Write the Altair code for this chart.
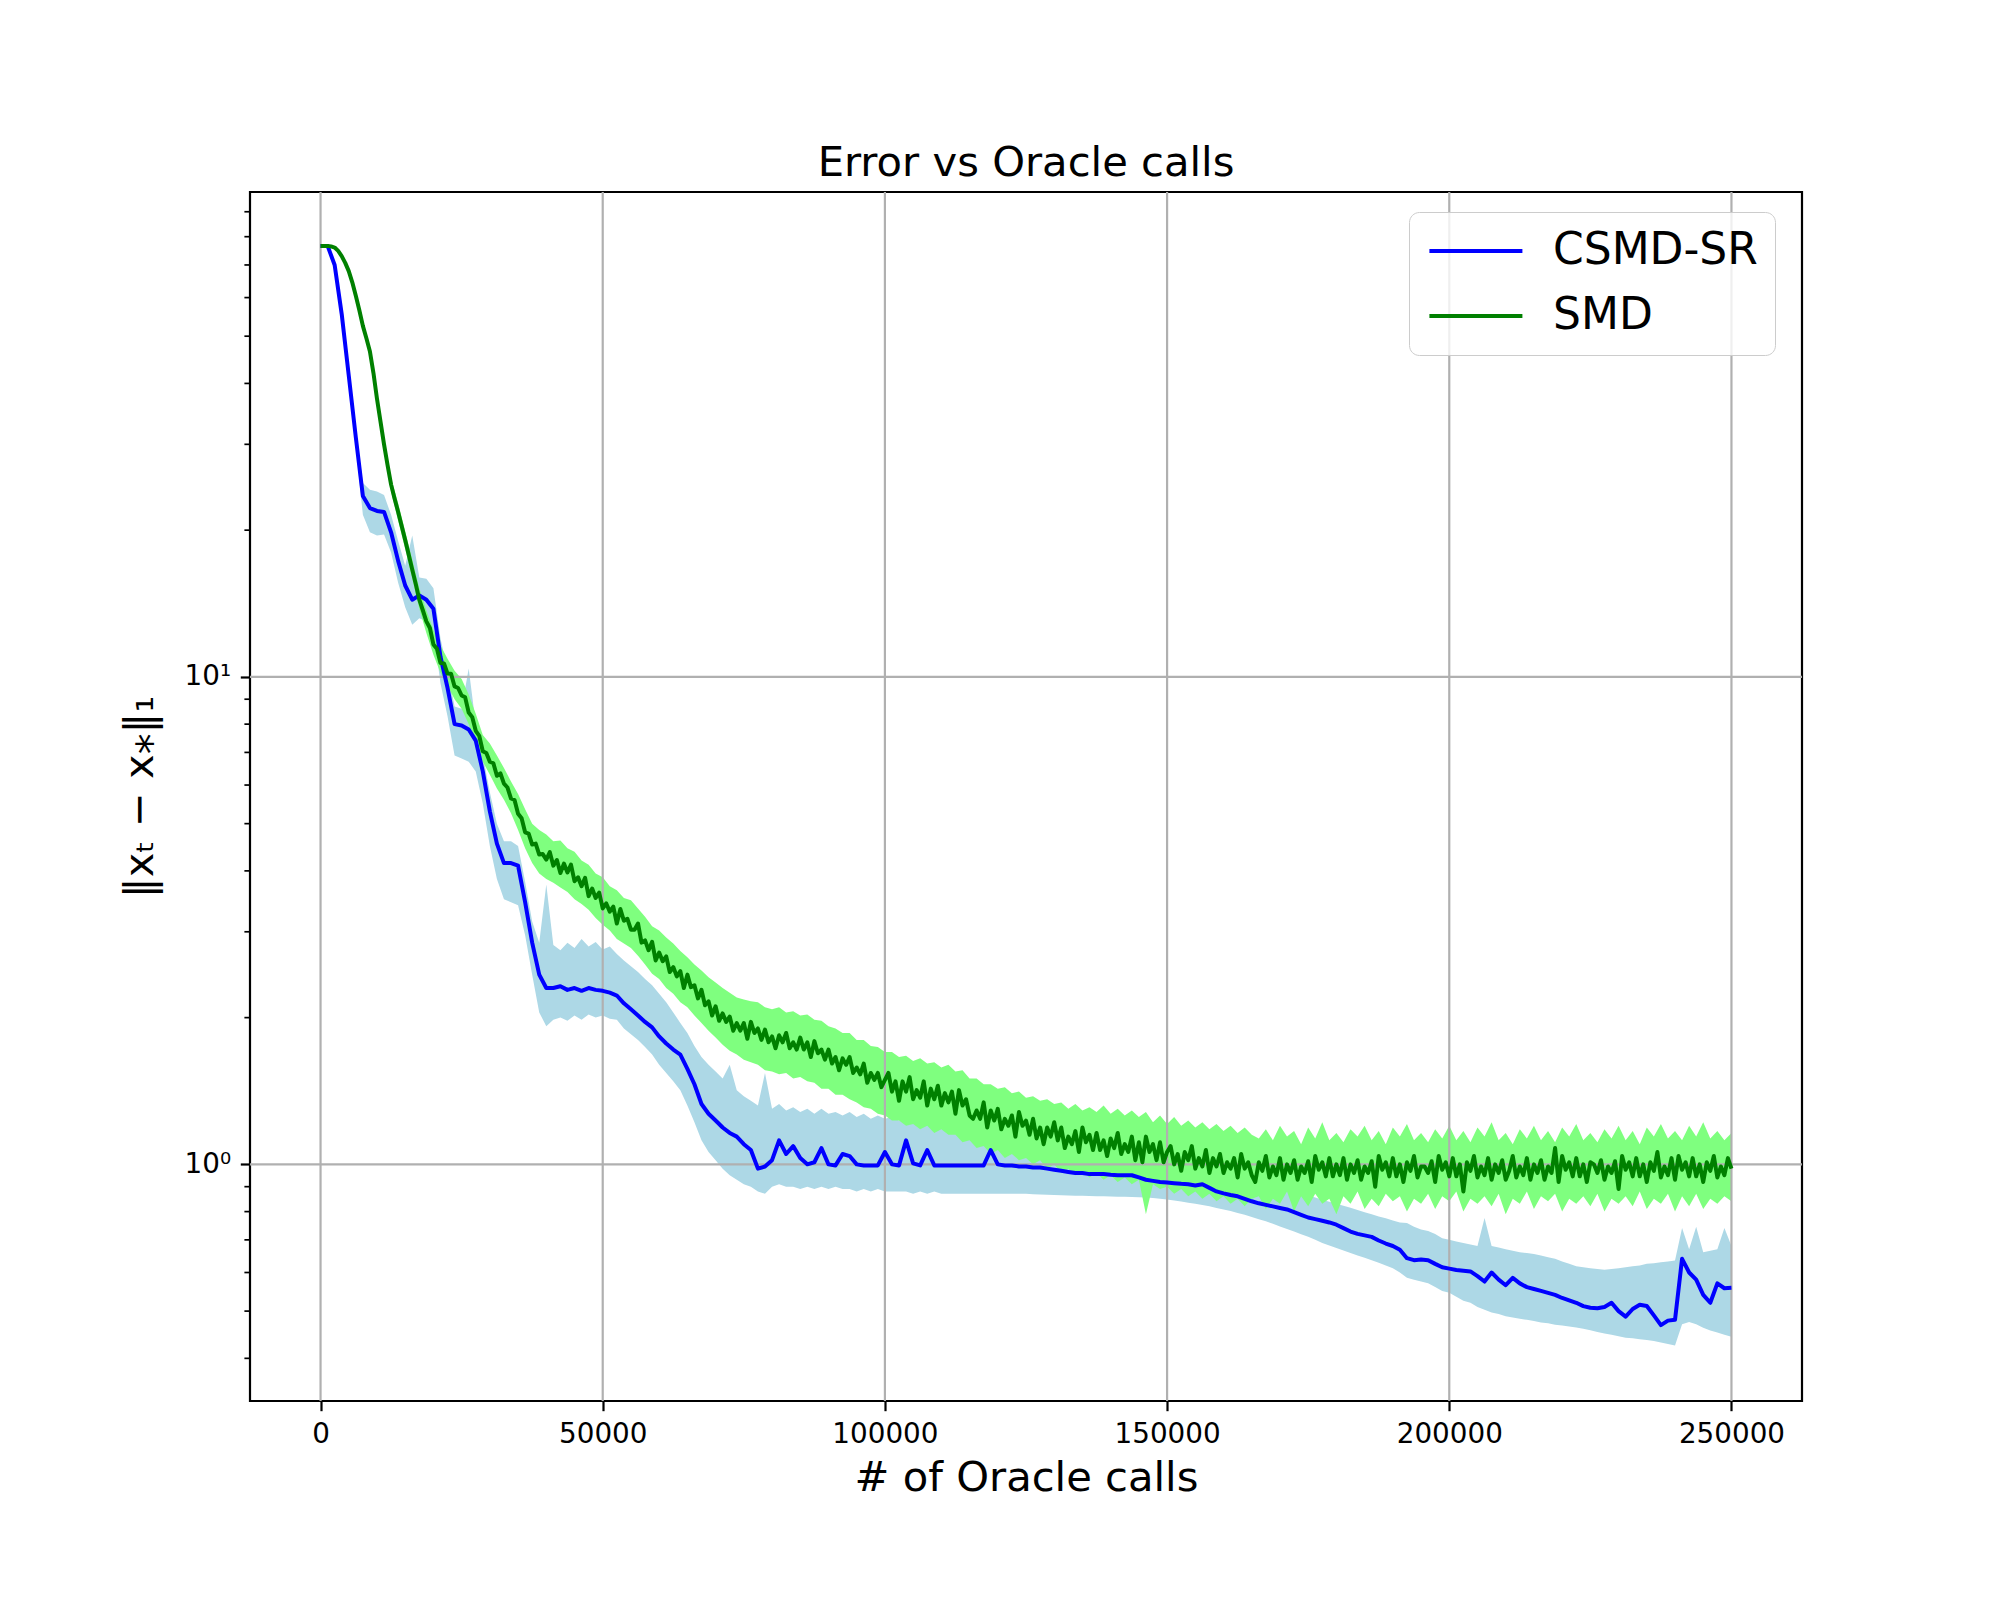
import altair as alt
import pandas as pd

# ---------------- data ----------------
X_STEP = 1250          # sampling step of the CSMD-SR curve and of both bands
X_STEP_FINE = 625      # sampling step of the (very noisy) SMD mean curve

csmd_mean = [
    76.6, 76.6, 70.0, 55.5, 41.5, 31.0, 23.5, 22.2, 21.9, 21.8,
    19.8, 17.3, 15.4, 14.4, 14.7, 14.4, 13.8, 11.0, 9.5, 8.0,
    7.95, 7.8, 7.4, 6.4, 5.3, 4.55, 4.15, 4.15, 4.1, 3.45,
    2.85, 2.45, 2.3, 2.3, 2.32, 2.28, 2.3, 2.27, 2.3, 2.28,
    2.27, 2.25, 2.22, 2.14, 2.08, 2.02, 1.96, 1.91, 1.83, 1.77,
    1.72, 1.68, 1.57, 1.46, 1.33, 1.27, 1.23, 1.19, 1.16, 1.14,
    1.10, 1.07, 0.98, 0.99, 1.02, 1.12, 1.05, 1.09, 1.03, 1.0,
    1.01, 1.08, 1.0, 0.995, 1.05, 1.04, 1.0, 0.995, 0.995, 0.995,
    1.06, 1.0, 0.995, 1.12, 1.005, 0.995, 1.07, 0.995, 0.995, 0.995,
    0.995, 0.995, 0.995, 0.995, 0.995, 1.07, 1.0, 0.995, 0.995, 0.99,
    0.99, 0.985, 0.985, 0.98, 0.975, 0.97, 0.965, 0.96, 0.96, 0.955,
    0.955, 0.955, 0.952, 0.95, 0.95, 0.95, 0.94, 0.93, 0.925, 0.92,
    0.918, 0.915, 0.912, 0.91, 0.905, 0.91, 0.895, 0.88, 0.872, 0.865,
    0.86, 0.85, 0.84, 0.832, 0.826, 0.82, 0.814, 0.808, 0.798, 0.788,
    0.778, 0.772, 0.766, 0.76, 0.752, 0.74, 0.728, 0.72, 0.715, 0.71,
    0.698, 0.688, 0.68, 0.668, 0.642, 0.636, 0.638, 0.636, 0.625, 0.615,
    0.611, 0.607, 0.605, 0.603, 0.59, 0.575, 0.6, 0.58, 0.565, 0.585,
    0.57, 0.56, 0.555, 0.55, 0.545, 0.54, 0.532, 0.526, 0.52, 0.512,
    0.508, 0.507, 0.51, 0.52, 0.5, 0.487, 0.505, 0.515, 0.512, 0.49,
    0.468, 0.478, 0.48, 0.64, 0.6, 0.58, 0.54, 0.52, 0.57, 0.557,
    0.558,
]

csmd_lo = [
    76.6, 76.6, 70.0,
    54, 40, 29.8, 21.5, 19.8, 19.5, 19.6, 18.0, 15.6, 13.9, 12.8, 13.2, 13.0, 12.5,
    9.7, 8.3, 6.9, 6.8, 6.7, 6.4, 5.5, 4.5, 3.85, 3.5, 3.45, 3.4, 2.95, 2.45, 2.05,
    1.92, 1.98, 2.0, 1.97, 2.02, 1.98, 2.03, 2.0, 2.02, 1.99, 1.98, 1.9, 1.85, 1.8,
    1.74, 1.68, 1.6, 1.54, 1.48, 1.42, 1.32, 1.22, 1.12, 1.06, 1.02, 0.98, 0.95, 0.93,
    0.91, 0.9, 0.88, 0.87,
    0.9, 0.91, 0.9, 0.9, 0.89, 0.9, 0.89, 0.9, 0.89, 0.9, 0.89, 0.89, 0.88, 0.89,
    0.88, 0.89, 0.88, 0.88, 0.88, 0.88, 0.87, 0.88, 0.87, 0.88,
    0.87, 0.87, 0.87, 0.87, 0.87, 0.87, 0.87, 0.87, 0.87, 0.87, 0.87, 0.87, 0.87,
    0.868, 0.867, 0.866, 0.865, 0.864, 0.863, 0.862, 0.862, 0.861, 0.86, 0.86, 0.859,
    0.858, 0.858, 0.857, 0.856, 0.855, 0.853, 0.85, 0.847, 0.843, 0.839, 0.834, 0.83,
    0.825, 0.82, 0.814, 0.808, 0.802, 0.795, 0.788, 0.78,
    0.772, 0.764, 0.755, 0.746, 0.737, 0.728, 0.719, 0.71, 0.7, 0.69,
    0.682, 0.674, 0.666, 0.658, 0.65, 0.643, 0.636, 0.628, 0.62, 0.612,
    0.6, 0.585, 0.58, 0.575, 0.57, 0.56, 0.55, 0.545, 0.535, 0.525,
    0.52, 0.51, 0.503, 0.497, 0.493, 0.488, 0.485, 0.482, 0.48, 0.477,
    0.474, 0.472, 0.469, 0.467, 0.465, 0.463, 0.46, 0.457, 0.453, 0.45,
    0.447, 0.444, 0.441, 0.44, 0.438, 0.436, 0.434, 0.431, 0.428, 0.425,
    0.47, 0.475, 0.47, 0.462, 0.456, 0.452, 0.447, 0.443,
]

csmd_hi = [
    76.6, 76.6, 70.0,
    57, 43, 32.3, 25.0, 24.2, 24.0, 23.6, 21.5, 19.0, 16.9, 19.5, 16.0, 15.9, 15.2,
    12.0, 10.3, 8.7, 8.6, 10.4, 8.0, 6.9, 5.8, 5.0, 4.6, 4.6, 4.5, 3.8, 3.15, 2.85,
    3.75, 2.82, 2.75, 2.85, 2.78, 2.9, 2.8, 2.86, 2.76, 2.8, 2.7, 2.62, 2.55, 2.48,
    2.4, 2.33, 2.24, 2.15, 2.05, 1.95, 1.86, 1.75, 1.66, 1.6, 1.55, 1.5, 1.6, 1.42,
    1.38, 1.35, 1.32, 1.54,
    1.3, 1.33, 1.29, 1.31, 1.28, 1.3, 1.27, 1.3, 1.27, 1.28,
    1.26, 1.28, 1.25, 1.27, 1.24, 1.26, 1.24, 1.25, 1.23, 1.24,
    1.22, 1.23, 1.21, 1.22, 1.2, 1.21, 1.19, 1.2, 1.18, 1.19,
    1.17, 1.18, 1.16, 1.17, 1.15, 1.15, 1.13,
    1.13, 1.11, 1.12, 1.1, 1.1, 1.08, 1.08, 1.06, 1.06, 1.05,
    1.04, 1.03, 1.03, 1.02, 1.01, 1.0, 0.99, 0.99, 0.98, 0.97,
    0.97, 0.96, 0.955, 0.95, 0.945, 0.94, 0.935, 0.93, 0.925, 0.92,
    0.915, 0.91, 0.905, 0.9, 0.895, 0.89, 0.885, 0.88, 0.872, 0.865,
    0.855, 0.846, 0.838, 0.83, 0.822, 0.815, 0.806, 0.798, 0.79, 0.782,
    0.775, 0.767, 0.76, 0.758, 0.745, 0.735, 0.73, 0.72, 0.705, 0.7,
    0.695, 0.69, 0.685, 0.68, 0.776, 0.68, 0.675, 0.67, 0.665, 0.66,
    0.658, 0.655, 0.65, 0.645, 0.64, 0.632, 0.625, 0.618, 0.615, 0.612,
    0.61, 0.608, 0.61, 0.612, 0.615, 0.618, 0.62, 0.625, 0.627, 0.63,
    0.632, 0.635, 0.74, 0.67, 0.745, 0.66, 0.665, 0.67, 0.74, 0.68,
]

# SMD mean, every 625 oracle calls (0 .. 250000)
smd_mean = [
    # 0 - 18750
    76.6, 76.6, 76.6, 76.4, 76.0, 74.8, 73.0, 70.7, 68.0, 64.5,
    60.5, 56.5, 52.5, 49.5, 46.5, 42.0, 37.2, 33.4, 30.0, 27.2,
    24.8, 23.2, 21.8, 20.4, 19.1, 17.8, 16.6, 15.5, 14.4, 13.7, 13.0,
    # 19375 - 40000
    12.6, 11.66, 11.42, 10.68, 10.66, 10.16, 10.15, 9.56, 9.49, 9.16,
    9.08, 8.45, 8.27, 7.75, 7.57, 7.04, 6.98, 6.7, 6.65, 6.27,
    6.34, 6.04, 5.93, 5.63, 5.59, 5.24, 5.13, 4.8, 4.77, 4.53,
    4.55, 4.32, 4.33, 4.22,
    # 40625 - 100000
    4.37, 4.1, 4.21, 3.96, 4.14, 3.97, 4.12, 3.81, 3.88, 3.72,
    3.87, 3.55, 3.68, 3.52, 3.61, 3.35, 3.43, 3.3, 3.38, 3.12,
    3.34, 3.16, 3.19, 3.03, 3.03, 3.12, 2.85, 2.88, 2.75, 2.86,
    2.62, 2.72, 2.61, 2.67, 2.48, 2.54, 2.43, 2.49, 2.3, 2.45,
    2.31, 2.33, 2.19, 2.28, 2.12, 2.16, 2.02, 2.11, 1.97, 2.04,
    1.96, 2.01, 1.88, 1.95, 1.88, 1.95, 1.81, 1.96, 1.86, 1.9,
    1.8, 1.89, 1.78, 1.83, 1.73, 1.84, 1.78, 1.86, 1.73, 1.78,
    1.72, 1.82, 1.72, 1.78, 1.66, 1.79, 1.69, 1.72, 1.64, 1.72,
    1.61, 1.66, 1.56, 1.65, 1.6, 1.66, 1.54, 1.58, 1.53, 1.61,
    1.47, 1.54, 1.49, 1.54, 1.44, 1.49,
    # 100625 - 150000
    1.54, 1.41, 1.48, 1.35, 1.48, 1.41, 1.51, 1.36, 1.42, 1.37,
    1.48, 1.32, 1.43, 1.36, 1.45, 1.32, 1.4, 1.34, 1.41, 1.27,
    1.42, 1.32, 1.36, 1.26, 1.24, 1.29, 1.24, 1.34, 1.19, 1.29,
    1.23, 1.3, 1.18, 1.24, 1.2, 1.26, 1.14, 1.28, 1.2, 1.23,
    1.15, 1.24, 1.13, 1.19, 1.1, 1.19, 1.14, 1.22, 1.12, 1.19,
    1.08, 1.14, 1.1, 1.17, 1.06, 1.19, 1.11, 1.15, 1.07, 1.16,
    1.07, 1.12, 1.04, 1.13, 1.08, 1.16, 1.05, 1.1, 1.06, 1.14,
    1.02, 1.11, 1.01, 1.14, 1.06, 1.1, 1.02, 1.11, 1.01, 1.06,
    # 150625 - 165000
    1.09, 1.0, 1.05, 0.97, 1.06, 1.02, 1.09, 0.98, 1.03, 0.99,
    1.07, 0.96, 1.03, 0.99, 1.05, 0.96, 1.01, 0.98, 1.03, 0.94,
    1.05, 0.98, 1.01, 0.95,
    # 165625 - 180000
    0.92, 1.01, 0.97, 1.04, 0.94, 0.99, 0.95, 1.03, 0.93, 1.0,
    0.96, 1.02, 0.93, 0.99, 0.96, 1.015, 0.92, 1.04, 0.975, 1.01,
    0.945, 1.03, 0.945, 1.0,
    # 180625 - 195000
    0.95, 1.03, 0.93, 1.0, 0.96, 1.02, 0.93, 0.99, 0.96, 1.015,
    0.9, 1.04, 0.975, 1.01, 0.945, 1.03, 0.945, 1.0, 0.92, 1.01,
    0.97, 1.04, 0.94, 0.99,
    # 195625 - 210000
    0.99, 0.96, 1.015, 0.92, 1.04, 0.975, 1.01, 0.945, 1.03, 0.945,
    1.0, 0.88, 1.01, 0.97, 1.04, 0.94, 0.99, 0.95, 1.03, 0.93,
    1.0, 0.96, 1.02, 0.93,
    # 210625 - 225000
    0.97, 1.04, 0.94, 0.99, 0.95, 1.03, 0.93, 1.0, 0.96, 1.02,
    0.93, 0.99, 0.96, 1.08, 0.92, 1.04, 0.975, 1.01, 0.945, 1.03,
    0.945, 1.0, 0.92, 1.01,
    # 225625 - 240000
    1.0, 0.96, 1.02, 0.93, 0.99, 0.96, 1.015, 0.89, 1.04, 0.975,
    1.01, 0.945, 1.03, 0.945, 1.0, 0.92, 1.01, 0.97, 1.06, 0.94,
    0.99, 0.95, 1.03, 0.93,
    # 240625 - 250000
    1.04, 0.975, 1.01, 0.945, 1.03, 0.945, 1.0, 0.92, 1.01, 0.97,
    1.04, 0.94, 0.99, 0.95, 1.03, 0.98,
]

smd_lo = [
    76.6, 76.6, 76.0, 73.0, 68.0, 60.5, 52.5, 46.5, 37.2,
    29.2, 24.0, 20.9, 18.3, 15.9, 13.8, 12.3, 11.1, 10.2, 9.6, 9.0, 8.6, 8.0, 7.3,
    6.7, 6.3, 5.9, 5.6, 5.25, 4.85, 4.45, 4.15, 3.95,
    3.85, 3.78, 3.7, 3.62, 3.5, 3.42, 3.33, 3.2, 3.1, 3.02, 2.9, 2.84, 2.78, 2.68,
    2.57, 2.46, 2.4, 2.3, 2.24, 2.15, 2.1, 2.02, 1.95, 1.88, 1.82, 1.76, 1.71, 1.68, 1.64,
    1.62, 1.6, 1.56, 1.55, 1.53, 1.54, 1.5, 1.51, 1.48, 1.47, 1.43, 1.43, 1.39, 1.39,
    1.36, 1.34, 1.31, 1.3, 1.27, 1.26, 1.23, 1.23, 1.2, 1.21, 1.18, 1.2, 1.16, 1.18,
    1.15, 1.15, 1.11, 1.12, 1.08, 1.09, 1.05, 1.07, 1.03, 1.05, 1.02, 1.03,
    1.0, 1.02, 0.98, 1.0, 0.96, 0.98, 0.95, 0.97, 0.94, 0.96, 0.93, 0.95, 0.92, 0.94,
    0.91, 0.93, 0.79, 0.91, 0.89, 0.9, 0.87, 0.89, 0.86, 0.88, 0.85, 0.87, 0.84, 0.86,
    0.83, 0.85, 0.82, 0.85,
    0.86, 0.81, 0.85, 0.83, 0.88, 0.8, 0.86, 0.82, 0.87, 0.83,
    0.85, 0.79, 0.86, 0.83, 0.88, 0.81, 0.85, 0.82, 0.87, 0.84,
    0.86, 0.8, 0.85, 0.83, 0.87, 0.81, 0.86, 0.84, 0.88, 0.8,
    0.85, 0.83, 0.86, 0.82, 0.87, 0.79, 0.85, 0.83, 0.88, 0.81,
    0.86, 0.84, 0.87, 0.8, 0.85, 0.83, 0.86, 0.82, 0.87, 0.8,
    0.85, 0.83, 0.86, 0.82, 0.88, 0.81, 0.85, 0.83, 0.87, 0.8,
    0.86, 0.82, 0.87, 0.81, 0.85, 0.83, 0.86, 0.84,
]

smd_hi = [
    76.6, 76.6, 76.0, 73.0, 68.0, 60.5, 52.5, 46.5, 37.2,
    30.8, 25.6, 22.7, 19.9, 17.4, 15.2, 13.7, 12.5, 11.6, 10.9, 10.3, 9.9, 9.2, 8.4,
    7.6, 7.3, 6.9, 6.5, 6.1, 5.75, 5.35, 5.0, 4.85,
    4.75, 4.6, 4.62, 4.45, 4.38, 4.2, 4.12, 3.95, 3.88, 3.72, 3.65, 3.52, 3.48, 3.35,
    3.22, 3.08, 3.02, 2.92, 2.84, 2.74, 2.66, 2.57, 2.5, 2.42, 2.36, 2.3, 2.25, 2.2, 2.18,
    2.16, 2.15, 2.1, 2.08, 2.1, 2.05, 2.06, 2.02, 2.03, 1.98, 1.97, 1.92, 1.9, 1.86,
    1.86, 1.8, 1.8, 1.75, 1.74, 1.7, 1.7, 1.66, 1.67, 1.63, 1.65, 1.61, 1.62, 1.58,
    1.6, 1.55, 1.56, 1.5, 1.5, 1.46, 1.46, 1.43, 1.44, 1.4, 1.41, 1.37,
    1.38, 1.35, 1.36, 1.33, 1.34, 1.3, 1.33, 1.29, 1.31, 1.28, 1.32, 1.27, 1.3, 1.26,
    1.29, 1.25, 1.28, 1.22, 1.26, 1.21, 1.25, 1.2, 1.23, 1.19, 1.22, 1.18, 1.21, 1.17,
    1.2, 1.16, 1.19, 1.15,
    1.13, 1.18, 1.12, 1.2, 1.14, 1.17, 1.1, 1.19, 1.13, 1.22,
    1.12, 1.16, 1.11, 1.18, 1.14, 1.2, 1.12, 1.17, 1.1, 1.19,
    1.14, 1.21, 1.12, 1.16, 1.11, 1.18, 1.13, 1.2, 1.12, 1.17,
    1.11, 1.19, 1.14, 1.22, 1.12, 1.16, 1.1, 1.18, 1.13, 1.2,
    1.12, 1.17, 1.11, 1.19, 1.14, 1.21, 1.12, 1.16, 1.11, 1.18,
    1.13, 1.2, 1.12, 1.17, 1.1, 1.19, 1.14, 1.21, 1.13, 1.17,
    1.12, 1.2, 1.14, 1.22, 1.13, 1.17, 1.12, 1.16,
]

series_names = ["CSMD-SR", "SMD"]
line_colors = ["#0000ff", "#008000"]
band_colors = ["#add8e6", "#7fff7f"]

x_ticks = [0, 50000, 100000, 150000, 200000, 250000]
y_major = [1, 10]
y_minor = [0.4, 0.5, 0.6, 0.7, 0.8, 0.9, 2, 3, 4, 5, 6, 7, 8, 9,
           20, 30, 40, 50, 60, 70, 80, 90]

# ---------------- tables ----------------
x_coarse = [i * X_STEP for i in range(len(csmd_mean))]
x_fine = [j * X_STEP_FINE for j in range(len(smd_mean))]

lines_df = pd.DataFrame({
    "x": x_coarse + x_fine,
    "y": csmd_mean + smd_mean,
    "series": [series_names[0]] * len(csmd_mean) + [series_names[1]] * len(smd_mean),
})
band_csmd = pd.DataFrame({"x": x_coarse, "lo": csmd_lo, "hi": csmd_hi})
band_smd = pd.DataFrame({"x": x_coarse, "lo": smd_lo, "hi": smd_hi})
xgrid_df = pd.DataFrame({"gx": x_ticks})
ygrid_df = pd.DataFrame({"gy": y_major})
yminor_df = pd.DataFrame({"gy": y_minor})

FONT = "DejaVu Sans"
xscale = alt.Scale(domain=[-12500, 262500], nice=False, zero=False)
yscale = alt.Scale(type="log", domain=[0.327, 98.8], nice=False)

xaxis = alt.Axis(
    values=x_ticks, format="d", title="# of Oracle calls",
    titleFont=FONT, titleFontSize=41.7, titleFontWeight="normal", titleColor="black",
    titleY=89, titleBaseline="alphabetic",
    labelFont=FONT, labelFontSize=27.8, labelColor="black", labelPadding=9.7,
    labelFlush=False, labelOverlap=False,
    tickSize=9.7, tickWidth=2.2, tickColor="black", domain=False, grid=False,
)
yaxis = alt.Axis(
    values=y_major, labelExpr="datum.value == 10 ? '10¹' : '10⁰'",
    title="‖xₜ − x⁎‖₁",
    titleFont=FONT, titleFontSize=41.7, titleFontWeight="normal", titleColor="black",
    titleAngle=270, titleX=-98, titleY=604.5, titleBaseline="alphabetic", titleAlign="center",
    labelFont=FONT, labelFontSize=27.8, labelColor="black", labelPadding=9.7,
    labelFlush=False, labelOverlap=False,
    tickSize=9.7, tickWidth=2.2, tickColor="black", domain=False, grid=False,
)

X = alt.X("x:Q", scale=xscale, axis=xaxis)

band1 = alt.Chart(band_csmd).mark_area(color=band_colors[0], opacity=1).encode(
    x=X, y=alt.Y("lo:Q", scale=yscale, axis=yaxis), y2="hi:Q")
band2 = alt.Chart(band_smd).mark_area(color=band_colors[1], opacity=1).encode(
    x=X, y=alt.Y("lo:Q", scale=yscale, axis=yaxis), y2="hi:Q")

xgrid = alt.Chart(xgrid_df).mark_rule(color="#b0b0b0", strokeWidth=2.2).encode(
    x=alt.X("gx:Q", scale=xscale, axis=xaxis))
ygrid = alt.Chart(ygrid_df).mark_rule(color="#b0b0b0", strokeWidth=2.2).encode(
    y=alt.Y("gy:Q", scale=yscale, axis=yaxis))
yminor = alt.Chart(yminor_df).mark_rule(color="black", strokeWidth=1.7).encode(
    y=alt.Y("gy:Q", scale=yscale, axis=yaxis), x=alt.value(-5.6), x2=alt.value(0))

lines = alt.Chart(lines_df).mark_line(strokeWidth=4, strokeJoin="round").encode(
    x=X,
    y=alt.Y("y:Q", scale=yscale, axis=yaxis),
    color=alt.Color(
        "series:N",
        scale=alt.Scale(domain=series_names, range=line_colors),
        legend=alt.Legend(
            title=None, orient="none", legendX=1159, legendY=20,
            symbolType="M-1,0H4", symbolSize=1384, symbolStrokeWidth=4,
            labelFont=FONT, labelFontSize=44, labelColor="black", labelOffset=83,
            labelLimit=0,
            padding=17, rowPadding=21, cornerRadius=10,
            fillColor="rgba(255,255,255,0.8)", strokeColor="#cccccc",
        ),
    ),
)

chart = alt.layer(band1, band2, xgrid, ygrid, yminor, lines).properties(
    width=1552, height=1209,
    padding={"left": 242, "top": 184, "right": 190, "bottom": 191},
    autosize=alt.AutoSizeParams(type="none"),
    title=alt.TitleParams(
        "Error vs Oracle calls", font=FONT, fontSize=41.7, fontWeight="normal",
        color="black", anchor="middle", baseline="alphabetic", offset=-26.5,
    ),
).configure(
    background="white",
    view=alt.ViewConfig(stroke="black", strokeWidth=2.2),
)

chart.save("out.html", embed_options={"renderer": "svg", "actions": False})
